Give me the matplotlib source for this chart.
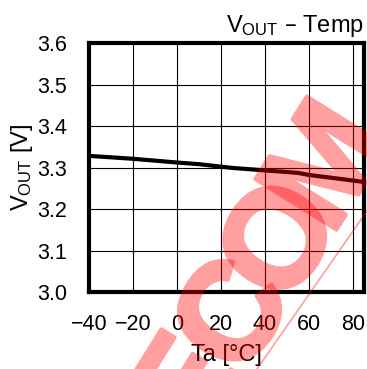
import numpy as np
import matplotlib
matplotlib.use("Agg")
import matplotlib.pyplot as plt
import matplotlib.patheffects as pe
from matplotlib.lines import Line2D

plt.rcParams['font.family'] = ['Liberation Sans', 'DejaVu Sans']
plt.rcParams['mathtext.default'] = 'regular'

# data
temp = [-40, -20, 0, 10, 25, 40, 55, 60, 75, 85]
vout = [3.328, 3.321, 3.312, 3.308, 3.299, 3.293, 3.287, 3.282, 3.272, 3.265]

xticks = [-40, -20, 0, 20, 40, 60, 80]
yticks = [3.0, 3.1, 3.2, 3.3, 3.4, 3.5, 3.6]
watermark = "ECOM"  # visible part of the red stamp

W, H = 367, 369
fig = plt.figure(figsize=(W / 100, H / 100), dpi=100)
ax = fig.add_axes([89 / W, 1 - 292 / H, (364 - 89) / W, (292 - 43) / H])

ax.plot(temp, vout, color='black', lw=3, solid_capstyle='butt', zorder=3)
ax.set_xlim(-40, 85)
ax.set_ylim(3.0, 3.6)
ax.set_xticks(xticks)
ax.set_yticks(yticks)
ax.set_yticklabels(['%.1f' % v for v in yticks])
ax.grid(True, color='black', lw=0.8)
ax.tick_params(length=0, labelsize=15.5, pad=16)
ax.tick_params(axis='x', pad=16)
for s in ax.spines.values():
    s.set_linewidth(3)

ax.set_xlabel('Ta [°C]', fontsize=17, labelpad=6)
ax.set_ylabel('$V_{OUT}$ [V]', fontsize=17, labelpad=1)
ax.set_title('$V_{OUT}$ – Temp', loc='right', fontsize=17, pad=8)


def fade(img, dpi):
    # make the opaque stamp translucent as one layer
    img = img.copy()
    img[..., 3] *= 0.38
    return img, 0, 0


# watermark stamp, centred on the "O"
ang = 58
step = 88
d = np.array([np.cos(np.radians(ang)), np.sin(np.radians(ang))])
o_pos = np.array([285.0, H - 244.0])
for i, ch in enumerate(watermark):
    p = o_pos + (i - 2) * step * d
    t = fig.text(p[0] / W, p[1] / H, ch, rotation=ang, ha='center', va='center',
                 rotation_mode='anchor', fontsize=100, fontweight='bold',
                 color='red', zorder=10)
    t.set_path_effects([pe.Stroke(linewidth=3, foreground='red'), pe.Normal()])
    t.set_agg_filter(fade)
fig.add_artist(Line2D([257 / W, 367 / W], [0, (H - 211) / H], color='red',
                      alpha=0.38, lw=1.2, transform=fig.transFigure, zorder=10))

fig.savefig('out.png', dpi=100)
